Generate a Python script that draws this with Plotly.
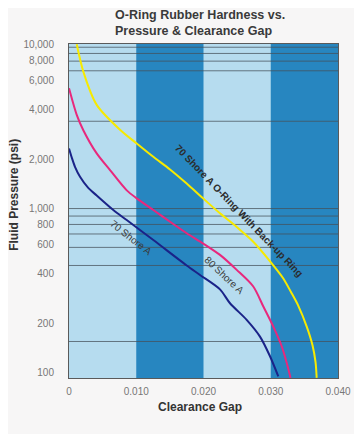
import plotly.graph_objects as go

# ---- data ----
gap_ticks = [0, 0.010, 0.020, 0.030, 0.040]
gap_tick_labels = ["0", "0.010", "0.020", "0.030", "0.040"]
pressure_ticks = [100, 200, 400, 600, 800, 1000, 2000, 4000, 6000, 8000, 10000]
pressure_tick_labels = ["100", "200", "400", "600", "800", "1,000", "2,000",
                        "4,000", "6,000", "8,000", "10,000"]
grid_pressures = [9600, 8800, 7900, 6900, 3400, 1000, 900, 800, 700, 580, 450, 155]
band_edges = [(0.010, 0.020), (0.030, 0.040)]

backup_gap = [0.00115, 0.00213, 0.00412, 0.00758, 0.01007, 0.01254, 0.01502,
              0.0175, 0.01997, 0.02245, 0.02494, 0.0274, 0.03014, 0.03187, 0.03301,
              0.03405, 0.03535, 0.03621, 0.03666, 0.03683]
backup_psi = [10000, 6820, 4280, 3020, 2490, 2065, 1730, 1420, 1150, 935, 772,
              628, 464, 375, 310, 258, 191, 147, 116, 93]

shore80_gap = [0.0, 0.00115, 0.00213, 0.00412, 0.0061, 0.00859, 0.01007, 0.01254,
               0.01502, 0.0175, 0.01997, 0.02245, 0.02494, 0.0274, 0.0289, 0.03038,
               0.03163, 0.03237, 0.03294]
shore80_psi = [5400, 3720, 3000, 2166, 1714, 1290, 1153, 979, 831, 707, 612, 522, 423,
               335, 253, 191, 145, 115, 93]

shore70_gap = [0.0, 0.00045, 0.00089, 0.00164, 0.00283, 0.00412, 0.00659, 0.00858,
               0.01254, 0.0175, 0.01948, 0.02245, 0.02394, 0.02642, 0.0284, 0.02989,
               0.03112]
shore70_psi = [2320, 2020, 1795, 1561, 1340, 1200, 979, 851, 643, 450, 394, 322, 265,
               210, 166, 126, 95]

FONT = "Liberation Sans, Arial, sans-serif"

fig = go.Figure()

# horizontal grid lines
for p in grid_pressures:
    fig.add_trace(go.Scatter(x=[gap_ticks[0], gap_ticks[-1]], y=[p, p], mode="lines",
                             line=dict(color="rgba(70,80,90,0.75)", width=1),
                             hoverinfo="skip", showlegend=False))

fig.add_trace(go.Scatter(x=backup_gap, y=backup_psi, mode="lines",
                         line=dict(color="#f7ea00", width=2, shape="spline", smoothing=0.8),
                         name="70 Shore A O-Ring With Back-up Ring", showlegend=False))
fig.add_trace(go.Scatter(x=shore80_gap, y=shore80_psi, mode="lines",
                         line=dict(color="#e8287c", width=2, shape="spline", smoothing=0.8),
                         name="80 Shore A", showlegend=False))
fig.add_trace(go.Scatter(x=shore70_gap, y=shore70_psi, mode="lines",
                         line=dict(color="#1a2388", width=2, shape="spline", smoothing=0.8),
                         name="70 Shore A", showlegend=False))

shapes = []
for x0, x1 in band_edges:
    shapes.append(dict(type="rect", xref="x", yref="paper", x0=x0, x1=x1, y0=0, y1=1,
                       fillcolor="#2786c0", line=dict(width=0), layer="below"))

annotations = [
    dict(text="<b>O-Ring Rubber Hardness vs.<br>Pressure & Clearance Gap</b>",
         x=0.1636, y=1.064, xref="paper", yref="paper", xanchor="left",
         yanchor="middle", align="left", showarrow=False,
         font=dict(family=FONT, size=12.5, color="#3a3a3a")),
    dict(text="<b>70 Shore A O-Ring With Back-up Ring</b>", x=0.0253, y=2.991,
         xref="x", yref="y", showarrow=False, textangle=46,
         font=dict(family=FONT, size=10, color="#2b2b2b")),
    dict(text="70 Shore A", x=0.0092, y=2.821, xref="x", yref="y", showarrow=False,
         textangle=38, font=dict(family=FONT, size=10, color="#3a3a3a")),
    dict(text="80 Shore A", x=0.0231, y=2.590, xref="x", yref="y", showarrow=False,
         textangle=43, font=dict(family=FONT, size=10, color="#3a3a3a")),
    dict(text="<b>Fluid Pressure (psi)</b>", x=-0.205, y=0.548, xref="paper", yref="paper",
         showarrow=False, textangle=-90, xanchor="center", yanchor="middle",
         font=dict(family=FONT, size=12, color="#333333")),
    dict(text="<b>Clearance Gap</b>", x=0.487, y=-0.087, xref="paper", yref="paper",
         showarrow=False, xanchor="center", yanchor="middle",
         font=dict(family=FONT, size=12, color="#333333")),
]

# page body has an 8px margin, so the figure is drawn 8px smaller and offset
fig.update_layout(
    width=354, height=426,
    margin=dict(l=61, r=24, t=36, b=56, autoexpand=False),
    paper_bgcolor="#f7f6f6",
    plot_bgcolor="#b6dcef",
    shapes=shapes,
    annotations=annotations,
    font=dict(family=FONT),
    showlegend=False,
)
fig.update_xaxes(range=[0, 0.040], tickvals=gap_ticks, ticktext=gap_tick_labels,
                 showgrid=False, zeroline=False, showline=True, mirror=True,
                 linecolor="#5a5a5a", linewidth=1, ticks="", ticklabelstandoff=4,
                 automargin=False,
                 tickfont=dict(family=FONT, size=10, color="#777777"))
fig.update_yaxes(type="log", range=[1.968, 4.002], tickvals=pressure_ticks,
                 ticktext=pressure_tick_labels, showgrid=False, zeroline=False,
                 showline=True, mirror=True, linecolor="#5a5a5a", linewidth=1,
                 ticks="", ticklabelstandoff=12, automargin=False,
                 tickfont=dict(family=FONT, size=10, color="#777777"))

fig.write_html("out.html")
